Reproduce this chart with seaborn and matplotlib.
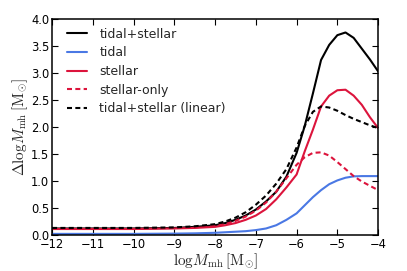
import numpy as np
import pandas as pd
import matplotlib
matplotlib.use("Agg")
import matplotlib.pyplot as plt
import seaborn as sns

# ---- data ----
log_m = [-12, -11, -10, -9, -8.5, -8, -7.75, -7.5, -7.25, -7, -6.75, -6.5, -6.25,
         -6, -5.8, -5.6, -5.4, -5.2, -5.0, -4.8, -4.6, -4.4, -4.2, -4.0]

tidal_stellar = [0.12, 0.12, 0.12, 0.13, 0.15, 0.18, 0.22, 0.28, 0.36, 0.47, 0.62, 0.80, 1.08,
                 1.52, 2.02, 2.62, 3.24, 3.52, 3.70, 3.75, 3.65, 3.45, 3.25, 3.03]
tidal = [0.02, 0.02, 0.02, 0.025, 0.03, 0.04, 0.05, 0.06, 0.07, 0.09, 0.12, 0.18, 0.28,
         0.40, 0.55, 0.70, 0.83, 0.94, 1.01, 1.06, 1.085, 1.09, 1.09, 1.09]
stellar = [0.11, 0.11, 0.11, 0.12, 0.13, 0.15, 0.18, 0.22, 0.28, 0.36, 0.48, 0.66, 0.88,
           1.12, 1.55, 1.95, 2.38, 2.58, 2.68, 2.69, 2.58, 2.41, 2.18, 1.98]
stellar_only = [0.12, 0.12, 0.12, 0.13, 0.14, 0.17, 0.20, 0.26, 0.34, 0.45, 0.60, 0.80, 1.05,
                1.30, 1.44, 1.52, 1.53, 1.47, 1.35, 1.22, 1.09, 0.99, 0.91, 0.83]
tidal_stellar_linear = [0.13, 0.13, 0.13, 0.14, 0.16, 0.20, 0.25, 0.32, 0.42, 0.56, 0.73, 0.95, 1.22,
                        1.62, 2.02, 2.28, 2.38, 2.36, 2.30, 2.22, 2.15, 2.09, 2.03, 1.98]

labels = ["tidal+stellar", "tidal", "stellar", "stellar-only", "tidal+stellar (linear)"]
series = [tidal_stellar, tidal, stellar, stellar_only, tidal_stellar_linear]
colors = ["black", "#4a78e4", "#dc143c", "#dc143c", "black"]
dashed = [False, False, False, True, True]

x_ticks = [-12, -11, -10, -9, -8, -7, -6, -5, -4]
y_ticks = [0.0, 0.5, 1.0, 1.5, 2.0, 2.5, 3.0, 3.5, 4.0]

sns.set_theme(style="ticks", rc={
    "xtick.direction": "in", "ytick.direction": "in",
    "xtick.top": True, "ytick.right": True,
    "xtick.major.size": 4.5, "ytick.major.size": 4.5,
    "xtick.major.width": 0.8, "ytick.major.width": 0.8,
    "axes.linewidth": 1.1, "axes.edgecolor": "black",
    "xtick.color": "black", "ytick.color": "black",
    "mathtext.fontset": "cm",
})
plt.rcParams["font.family"] = ["DejaVu Sans"]

fig = plt.figure(figsize=(4.07, 2.71), dpi=100)
ax = fig.add_axes([0.128, 0.133, 0.801, 0.797])

for vals, lab, col, d in zip(series, labels, colors, dashed):
    df = pd.DataFrame({"x": log_m, "y": vals})
    sns.lineplot(data=df, x="x", y="y", ax=ax, lw=1.5, color=col, label=lab)
    if d:
        ax.lines[-1].set_dashes((2.4, 1.6))

ax.set_xlim(-12, -4)
ax.set_ylim(0, 4)
ax.set_xticks(x_ticks)
ax.set_yticks(y_ticks)
ax.set_xticklabels([f"{v:d}".replace("-", "\u2212") for v in x_ticks], fontsize=8.3)
ax.set_yticklabels([f"{v:.1f}" for v in y_ticks], fontsize=8.3)
ax.tick_params(axis="x", pad=2.5)
ax.tick_params(axis="y", pad=2)
ax.set_xlabel(r"${\rm log}M_{\rm mh}\,[{\rm M}_{\odot}]$", fontsize=11, labelpad=0)
ax.set_ylabel(r"$\Delta{\rm log}M_{\rm mh}\,[{\rm M}_{\odot}]$", fontsize=11, labelpad=1)

leg = ax.legend(loc="upper left", bbox_to_anchor=(0.018, 1.0), frameon=False, fontsize=9,
                handlelength=1.6, handletextpad=1.0, labelspacing=0.45, borderaxespad=0.3)

fig.savefig("out.png", dpi=100)
